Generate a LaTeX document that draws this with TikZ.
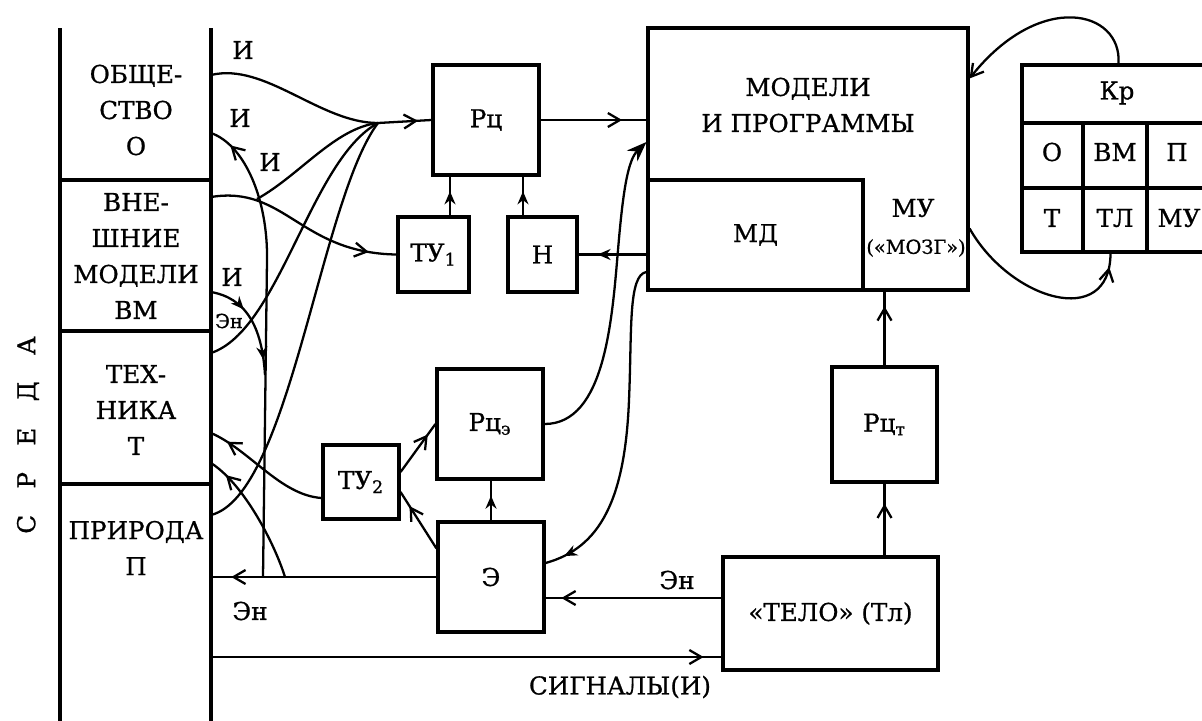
\documentclass[tikz,border=0pt]{standalone}
\usepackage{fontspec}
\setmainfont{DejaVu Serif}[FakeBold=0.8]
\usetikzlibrary{arrows.meta,positioning,calc,decorations.markings}
\tikzset{
  blk/.style   = {draw, line width=1.8pt, inner sep=0pt,
                  font=\fontsize{14}{17}\selectfont},
  txt/.style   = {align=center, inner sep=0pt,
                  font=\fontsize{14}{20.5}\selectfont},
  lbl/.style   = {inner sep=0pt, font=\fontsize{14}{17}\selectfont},
  slbl/.style  = {inner sep=0pt, font=\fontsize{11}{13}\selectfont},
  wire/.style  = {line width=1.3pt},
  col/.style   = {line width=1.8pt},
  ma/.style    = {postaction={decorate, decoration={markings,
                  mark=at position #1 with
                  {\arrow{Straight Barb[length=2.4mm,width=2.8mm]}}}}},
  mf/.style    = {postaction={decorate, decoration={markings,
                  mark=at position #1 with
                  {\arrow{Stealth[length=2.6mm,width=2.2mm]}}}}},
}

\begin{document}
\begin{tikzpicture}[x=0.02cm, y=-0.02cm]
  \useasboundingbox (0,0) rectangle (1202,720);

  % ---------- environment column ------------------------------------------
  \draw[col] (60,28) -- (60,725) (211,28) -- (211,725);
  \draw[col] (60,180) -- (211,180) (60,331) -- (211,331) (60,484) -- (211,484);
  \node[txt] (soc)  at (136,110) {ОБЩЕ-\\СТВО\\О};
  \node[txt] (vm)   at (136,256) {ВНЕ-\\ШНИЕ\\МОДЕЛИ\\ВМ};
  \node[txt] (tech) at (136,410) {ТЕХ-\\НИКА\\Т};
  \node[txt] (nat)  at (136,548) {ПРИРОДА\\П};
  \node[lbl, rotate=90] (env) at (28,435)
    {С\hspace{15pt}Р\hspace{15pt}Е\hspace{15pt}Д\hspace{15pt}А};

  \coordinate (pO)  at (211,75);
  \coordinate (pOe) at (211,133);
  \coordinate (pV)  at (211,197);
  \coordinate (pVj) at (257,199);
  \coordinate (pVe) at (211,292);
  \coordinate (pT)  at (211,353);
  \coordinate (pTa) at (211,433);
  \coordinate (pTb) at (211,463);
  \coordinate (pP)  at (211,515);
  \coordinate (pEn) at (211,577);
  \coordinate (pS)  at (211,657);
  \coordinate (bv)  at (263,577);
  \coordinate (bt)  at (285,577);
  \coordinate (cv)  at (378,123);

  % ---------- blocks ------------------------------------------------------
  \node[blk, minimum width=2.12cm, minimum height=2.2cm] (rc) at (486,120) {Рц};
  \node[blk, minimum width=1.42cm, minimum height=1.5cm] (tu1) at (433.5,254.5)
    {ТУ\textsubscript{1}};
  \node[blk, minimum width=1.38cm, minimum height=1.5cm] (nn) at (542.5,254.5) {Н};
  \node[blk, minimum width=6.4cm, minimum height=5.24cm] (mp) at (808,159) {};
  \node[txt] (mptxt) at (808,105) {МОДЕЛИ\\И ПРОГРАММЫ};
  \node[blk, minimum width=4.3cm, minimum height=2.2cm] (md) at (755.5,235) {МД};
  \node[lbl]  (mu)    at (913,208) {МУ};
  \node[slbl] (brain) at (916,248) {(«МОЗГ»)};

  \node[blk, minimum width=1.52cm, minimum height=1.48cm] (tu2) at (361,482)
    {ТУ\textsubscript{2}};
  \node[blk, minimum width=2.12cm, minimum height=2.2cm] (rce) at (490,424)
    {Рц\textsubscript{э}};
  \node[blk, minimum width=2.12cm, minimum height=2.2cm] (ee) at (491,577) {Э};
  \node[blk, minimum width=2.1cm, minimum height=2.3cm] (rct) at (884.5,424.5)
    {Рц\textsubscript{т}};
  \node[blk, minimum width=4.3cm, minimum height=2.26cm] (body) at (830.5,613.5)
    {«ТЕЛО» (Тл)};

  % ---------- criteria table ----------------------------------------------
  \node[blk, minimum width=3.86cm, minimum height=3.74cm] (kr) at (1118.5,158.5) {};
  \draw[col] (1022,123) -- (1215,123) (1022,188) -- (1215,188)
             (1083,123) -- (1083,252) (1147,123) -- (1147,252);
  \node[lbl] (krt) at (1117,93)  {Кр};
  \node[lbl] (k1)  at (1052,152) {О};
  \node[lbl] (k2)  at (1115,152) {ВМ};
  \node[lbl] (k3)  at (1177,152) {П};
  \node[lbl] (k4)  at (1052,218) {Т};
  \node[lbl] (k5)  at (1115,218) {ТЛ};
  \node[lbl] (k6)  at (1179,218) {МУ};

  % ---------- labels ------------------------------------------------------
  \node[lbl]  (i1)  at (243,50)  {И};
  \node[lbl]  (i2)  at (240,118) {И};
  \node[lbl]  (i3)  at (270,162) {И};
  \node[lbl]  (i4)  at (232,277) {И};
  \node[slbl] (en1) at (229,321) {Эн};
  \node[lbl]  (en2) at (250,611) {Эн};
  \node[lbl]  (en3) at (677,580) {Эн};
  \node[lbl]  (sig) at (620,687) {СИГНАЛЫ(И)};

  % ---------- information into Рц -----------------------------------------
  \draw[wire] (pO) .. controls (265,62) and (320,123) .. (cv);
  \draw[wire] (pVj) .. controls (300,175) and (335,128) .. (cv);
  \draw[wire] (pT) .. controls (280,330) and (310,160) .. (cv);
  \draw[wire] (pP) .. controls (290,495) and (320,200) .. (cv);
  \draw[wire, ma=0.75] (cv) -- (rc.west);
  \draw[wire, ma=0.86] (pV) .. controls (285,185) and (300,253) .. (tu1.west);

  \draw[wire, mf=0.62] ([xshift=0.33cm]tu1.north) -- ([xshift=0.33cm]tu1.north |- rc.south);
  \draw[wire, mf=0.62] ([xshift=-0.39cm]nn.north) -- ([xshift=-0.39cm]nn.north |- rc.south);
  \draw[wire, ma=0.77] (rc.east) -- (rc.east -| mp.west);
  \draw[wire, mf=0.72] (md.west |- nn.east) -- (nn.east);

  % ---------- energy to the environment ----------------------------------
  \draw[wire, ma=0.91] (ee.west) -- (pEn);
  \draw[wire, ma=0.95] (bv) -- (267,260) .. controls (268,200) and (245,145) .. (pOe);
  \draw[wire, mf=0.35, mf=0.86] (pVe) .. controls (245,298) and (262,325) .. (265,375);
  \draw[wire, ma=0.86] (bt) .. controls (275,545) and (245,485) .. (pTb);
  \draw[wire, ma=0.86] ($(tu2.west)+(0,16)$) .. controls (280,495) and (250,450) .. (pTa);

  % ---------- Э, ТУ2, Рцэ -------------------------------------------------
  \draw[wire, ma=0.78] ($(tu2.east)+(0,-10)$) -- (rce.west);
  \draw[wire, ma=0.75] ($(ee.north west)+(0,28)$) -- ($(tu2.east)+(0,10)$);
  \draw[wire, mf=0.62] (ee.north) -- (ee.north |- rce.south);
  \draw[wire, -{Stealth[length=4mm,width=3mm]}] (rce.east)
    .. controls (605,424) and (612,320) .. (618,250)
    .. controls (623,190) and (628,160) .. ($(mp.west)+(0,-17)$);
  \draw[wire, mf=0.94] ($(md.west)+(0,37)$)
    .. controls (628,275) and (632,330) .. (629,400)
    .. controls (625,500) and (600,548) .. ($(ee.east)+(0,-14)$);

  % ---------- body --------------------------------------------------------
  \draw[wire, ma=0.91] ([yshift=0.31cm]body.west) -- ([yshift=0.31cm]body.west -| ee.east);
  \draw[wire, ma=0.965] (pS) -- (pS -| body.west);
  \draw[wire, ma=0.72] (rct.south |- body.north) -- (rct.south);
  \draw[wire, ma=0.8] (rct.north) -- (rct.north |- mp.south);

  % ---------- criteria loop -----------------------------------------------
  \draw[wire, -{Straight Barb[length=2.4mm,width=2.8mm]}] (kr.north)
    .. controls (1122,10) and (1040,-10) .. ($(mp.north east)+(0,52)$);
  \draw[wire, ma=0.93] ($(mp.north east)+(0,202)$)
    .. controls (1010,300) and (1110,330) .. ($(kr.south)+(-8,0)$);

\end{tikzpicture}
\end{document}
